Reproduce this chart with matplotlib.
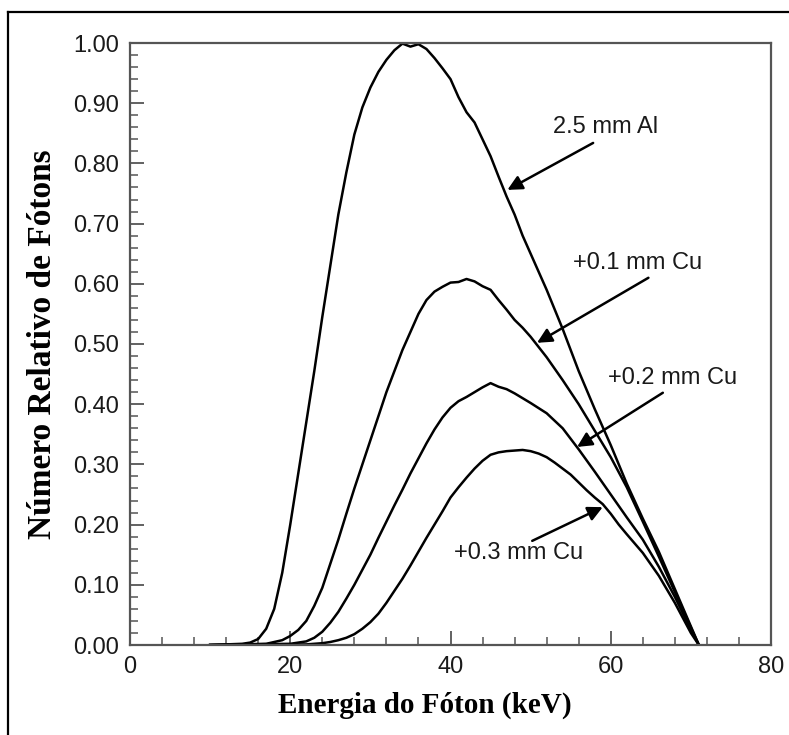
import matplotlib
matplotlib.use("Agg")
import matplotlib.pyplot as plt
from matplotlib.lines import Line2D
import numpy as np

# ---- data ----
energy_al = [10, 14, 15, 16, 17, 18, 19, 20, 21, 22, 23, 24, 25, 26, 27, 28, 29, 30, 31, 32, 33,
             34, 35, 36, 37, 38, 39, 40, 41, 42, 43, 44, 45, 46, 47, 48, 49, 50, 52, 54, 56,
             58, 60, 62, 64, 66, 68, 70, 71]
al_2_5 = [0, 0.002, 0.004, 0.01, 0.027, 0.06, 0.12, 0.2, 0.285, 0.37, 0.455, 0.545, 0.63,
          0.715, 0.785, 0.848, 0.893, 0.926, 0.952, 0.972, 0.988, 0.999, 0.994, 0.998, 0.99,
          0.975, 0.958, 0.94, 0.91, 0.885, 0.868, 0.84, 0.812, 0.778, 0.745, 0.715, 0.68,
          0.65, 0.59, 0.525, 0.455, 0.392, 0.332, 0.268, 0.21, 0.155, 0.093, 0.031, 0]

energy_cu1 = [10, 17, 19, 20, 21, 22, 23, 24, 25, 26, 27, 28, 29, 30, 31, 32, 33, 34, 35, 36,
              37, 38, 39, 40, 41, 42, 43, 44, 45, 46, 47, 48, 49, 50, 52, 54, 56, 58, 60, 62,
              64, 66, 68, 70, 71]
cu_0_1 = [0, 0.002, 0.008, 0.015, 0.025, 0.04, 0.065, 0.095, 0.135, 0.175, 0.218, 0.26, 0.30,
          0.34, 0.38, 0.42, 0.455, 0.49, 0.52, 0.55, 0.573, 0.587, 0.595, 0.602, 0.603, 0.608,
          0.604, 0.596, 0.59, 0.573, 0.557, 0.54, 0.527, 0.512, 0.478, 0.44, 0.4, 0.356,
          0.312, 0.262, 0.205, 0.147, 0.088, 0.029, 0]

energy_cu2 = [10, 20, 22, 23, 24, 25, 26, 27, 28, 29, 30, 31, 32, 33, 34, 35, 36, 37, 38, 39,
              40, 41, 42, 43, 44, 45, 46, 47, 48, 49, 50, 52, 54, 56, 58, 60, 62, 64, 66, 68,
              70, 71]
cu_0_2 = [0, 0.002, 0.006, 0.012, 0.022, 0.037, 0.055, 0.077, 0.1, 0.125, 0.15, 0.178, 0.205,
          0.232, 0.258, 0.285, 0.31, 0.335, 0.358, 0.378, 0.394, 0.405, 0.412, 0.42, 0.428,
          0.435, 0.429, 0.425, 0.418, 0.41, 0.402, 0.385, 0.36, 0.325, 0.288, 0.25, 0.212,
          0.175, 0.13, 0.08, 0.025, 0]

energy_cu3 = [10, 22, 24, 25, 26, 27, 28, 29, 30, 31, 32, 33, 34, 35, 36, 37, 38, 39, 40, 41,
              42, 43, 44, 45, 46, 47, 48, 49, 50, 51, 52, 53, 54, 55, 56, 57, 58, 59, 60, 61,
              62, 64, 66, 68, 70, 71]
cu_0_3 = [0, 0.001, 0.003, 0.005, 0.008, 0.012, 0.018, 0.027, 0.038, 0.052, 0.07, 0.09, 0.11,
          0.132, 0.155, 0.178, 0.2, 0.222, 0.245, 0.262, 0.278, 0.293, 0.306, 0.316, 0.32,
          0.322, 0.323, 0.324, 0.322, 0.318, 0.312, 0.303, 0.293, 0.283, 0.27, 0.257, 0.245,
          0.234, 0.218, 0.2, 0.184, 0.153, 0.115, 0.07, 0.02, 0]

labels = ["2.5 mm Al", "+0.1 mm Cu", "+0.2 mm Cu", "+0.3 mm Cu"]
label_xy = [(59.3, 0.860), (63.4, 0.635), (67.7, 0.443), (48.5, 0.152)]
arrow_tail = [(57.8, 0.834), (64.7, 0.610), (66.5, 0.419), (50.2, 0.173)]
arrow_head = [(47.1, 0.756), (50.8, 0.502), (55.8, 0.329), (59.0, 0.229)]

x_ticks = [0, 20, 40, 60, 80]
y_ticks = [0.0, 0.1, 0.2, 0.3, 0.4, 0.5, 0.6, 0.7, 0.8, 0.9, 1.0]

# ---- figure ----
fig = plt.figure(figsize=(7.89, 7.35), dpi=100)
ax = fig.add_axes([130/789, 1 - 645/735, (771-130)/789, (645-43)/735])

for xs, ys in [(energy_al, al_2_5), (energy_cu1, cu_0_1), (energy_cu2, cu_0_2), (energy_cu3, cu_0_3)]:
    ax.plot(xs, ys, color="black", lw=1.8, solid_joinstyle="round")

ax.set_xlim(0, 80)
ax.set_ylim(0, 1.0)
ax.set_xticks(x_ticks)
ax.set_xticks(np.arange(0, 81, 4), minor=True)
ax.set_yticks(y_ticks)
ax.set_yticks(np.arange(0, 1.001, 0.02), minor=True)
ax.set_yticklabels([f"{v:.2f}" for v in y_ticks])

tick_font = "Liberation Sans"
spine_col = "#555555"
ax.tick_params(axis="both", which="major", direction="in", length=10, width=1.3,
               color=spine_col, labelsize=17, pad=8, top=False, right=False)
ax.tick_params(axis="both", which="minor", direction="in", length=6, width=1.1,
               color=spine_col, top=False, right=False)
for lab in ax.get_xticklabels() + ax.get_yticklabels():
    lab.set_fontfamily(tick_font)
    lab.set_color("#1a1a1a")
for sp in ax.spines.values():
    sp.set_color(spine_col)
    sp.set_linewidth(1.6)

ax.set_xlabel("Energia do Fóton (keV)", fontfamily="Liberation Serif", fontweight="bold",
              fontsize=21)
ax.set_ylabel("Número Relativo de Fótons", fontfamily="Liberation Serif", fontweight="bold",
              fontsize=24)
ax.xaxis.set_label_coords(0.46, -0.078)
ax.yaxis.set_label_coords(-0.112, 0.5)

for lab, (tx, ty), tail, head in zip(labels, label_xy, arrow_tail, arrow_head):
    ax.text(tx, ty, lab, ha="center", va="center", fontsize=17, fontfamily=tick_font,
            color="#1a1a1a")
    ax.annotate("", xy=head, xytext=tail,
                arrowprops=dict(arrowstyle="-|>", color="black", lw=1.8,
                                mutation_scale=22, shrinkA=0, shrinkB=0))

# outer frame lines (top and left)
fig.add_artist(Line2D([8/789, 1.0], [1 - 12/735, 1 - 12/735], transform=fig.transFigure,
                      color="black", lw=1.6))
fig.add_artist(Line2D([8/789, 8/789], [0, 1 - 12/735], transform=fig.transFigure,
                      color="black", lw=1.6))

fig.savefig("out.png", dpi=100)
